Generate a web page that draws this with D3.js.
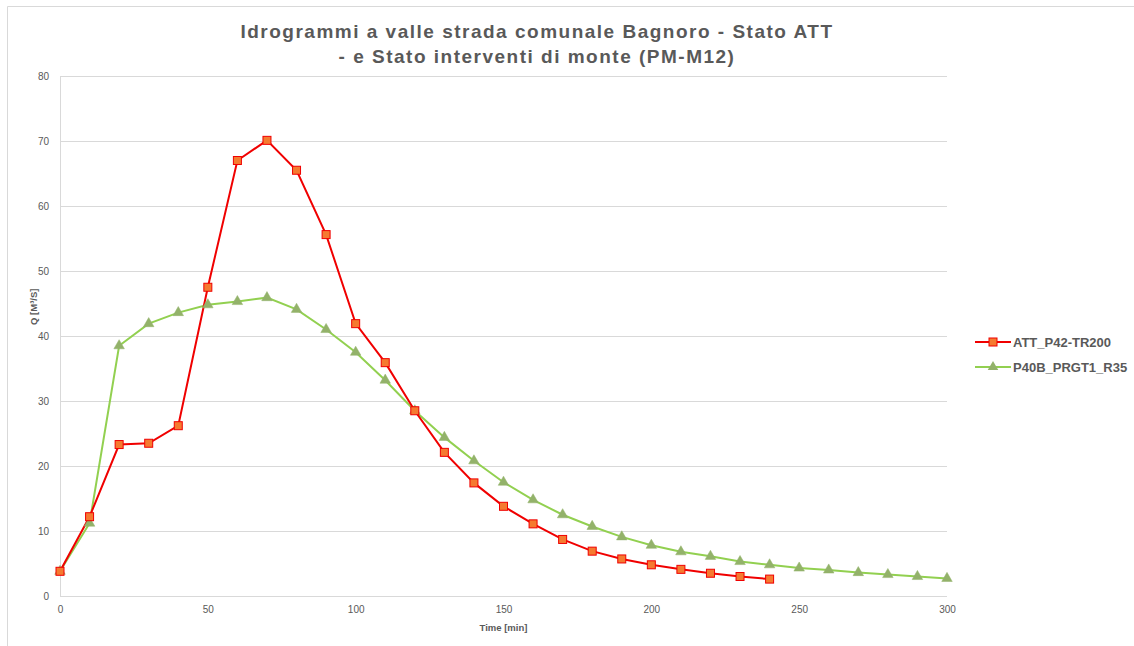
<!DOCTYPE html>
<html>
<head>
<meta charset="utf-8">
<script src="https://cdn.jsdelivr.net/npm/d3@7"></script>
<style>
  body { margin: 0; background: #fff; }
  text { font-family: "Liberation Sans", Arial, sans-serif; }
</style>
</head>
<body>
<svg id="chart"></svg>
<script>
const size = {w: 1134, h: 646};
const margin = {t: 76, r: 187, b: 50, l: 60};

// data
const time = d3.range(0, 301, 10);
const attValues = [3.8, 12.2, 23.3, 23.5, 26.2, 47.5, 67.0, 70.1, 65.5, 55.6, 41.9, 35.9, 28.5,
    22.1, 17.4, 13.8, 11.1, 8.7, 6.9, 5.7, 4.8, 4.1, 3.5, 3.0, 2.6];
const prgValues = [3.8, 11.2, 38.5, 41.9, 43.6, 44.8, 45.3, 45.9, 44.1, 41.0, 37.5, 33.2, 28.5,
    24.4, 20.8, 17.5, 14.8, 12.5, 10.7, 9.1, 7.8, 6.8, 6.1, 5.3, 4.8, 4.3, 4.0, 3.6, 3.3, 3.0, 2.7];
const seriesNames = ['ATT_P42-TR200', 'P40B_PRGT1_R35'];
const xTicks = [0, 50, 100, 150, 200, 250, 300];
const yTicks = [0, 10, 20, 30, 40, 50, 60, 70, 80];
const titleLines = ['Idrogrammi a valle strada comunale Bagnoro - Stato ATT',
    '- e Stato interventi di monte (PM-M12)'];

const svg = d3.select('svg#chart')
    .attr('width', size.w)
    .attr('height', size.h);

// frame (only top and left edges visible in the crop)
svg.append('line').attr('x1', 7.5).attr('x2', size.w).attr('y1', 6.5).attr('y2', 6.5)
    .attr('stroke', '#d9d9d9');
svg.append('line').attr('x1', 7.5).attr('x2', 7.5).attr('y1', 6.5).attr('y2', size.h)
    .attr('stroke', '#d9d9d9');

const w = size.w - margin.l - margin.r;
const h = size.h - margin.t - margin.b;

const x = d3.scaleLinear().domain([0, 300]).range([0, w]);
const y = d3.scaleLinear().domain([0, 80]).range([h, 0]);

const g = svg.append('g')
    .attr('transform', `translate(${margin.l}, ${margin.t})`);

// gridlines
g.append('g')
    .selectAll('line')
    .data(yTicks)
    .join('line')
    .attr('x1', 0)
    .attr('x2', w)
    .attr('y1', d => Math.round(y(d)) + 0.5)
    .attr('y2', d => Math.round(y(d)) + 0.5)
    .attr('stroke', '#d9d9d9');

g.append('line')
    .attr('x1', 0.5).attr('x2', 0.5)
    .attr('y1', 0).attr('y2', h)
    .attr('stroke', '#d9d9d9');

// axes
const yAxis = g.append('g')
    .call(d3.axisLeft(y).tickValues(yTicks).tickSize(0).tickPadding(11));
yAxis.select('.domain').remove();
yAxis.selectAll('text')
    .attr('fill', '#595959')
    .style('font-family', '"Liberation Sans Narrow", "Liberation Sans", sans-serif')
    .style('font-size', '10px');

const xAxis = g.append('g')
    .attr('transform', `translate(0, ${h})`)
    .call(d3.axisBottom(x).tickValues(xTicks).tickSize(0).tickPadding(10));
xAxis.select('.domain').remove();
xAxis.selectAll('text')
    .attr('fill', '#595959')
    .style('font-family', '"Liberation Sans Narrow", "Liberation Sans", sans-serif')
    .style('font-size', '10px');

// axis titles
g.append('text')
    .attr('x', x(150))
    .attr('y', h + 35)
    .attr('text-anchor', 'middle')
    .attr('fill', '#595959')
    .style('font-family', '"Liberation Sans Narrow", "Liberation Sans", sans-serif')
    .style('font-size', '9.5px')
    .style('font-weight', 'bold')
    .text('Time [min]');

g.append('text')
    .attr('transform', `translate(-23, ${y(44.5)}) rotate(-90)`)
    .attr('text-anchor', 'middle')
    .attr('fill', '#595959')
    .style('font-family', '"Liberation Sans Narrow", "Liberation Sans", sans-serif')
    .style('font-size', '9.5px')
    .style('font-weight', 'bold')
    .text('Q [M³/S]');

// title
svg.append('g')
    .selectAll('text')
    .data(titleLines)
    .join('text')
    .attr('x', 537)
    .attr('y', (d, i) => 38 + i * 25)
    .attr('text-anchor', 'middle')
    .attr('fill', '#595959')
    .style('font-size', '19px')
    .style('font-weight', 'bold')
    .style('letter-spacing', '1.5px')
    .text(d => d);

// lines
const line = d3.line()
    .x(d => x(d[0]))
    .y(d => y(d[1]));

const attData = attValues.map((v, i) => [time[i], v]);
const prgData = prgValues.map((v, i) => [time[i], v]);

const green = '#92d050';
const greenMark = '#93b26a';
const red = '#f00000';
const orange = '#f57a30';

g.append('path')
    .datum(prgData)
    .attr('d', line)
    .attr('fill', 'none')
    .attr('stroke', green)
    .attr('stroke-width', 2);

g.append('path')
    .datum(attData)
    .attr('d', line)
    .attr('fill', 'none')
    .attr('stroke', red)
    .attr('stroke-width', 2);

const tri = d3.symbol().type(d3.symbolTriangle).size(48);

g.append('g')
    .selectAll('path')
    .data(prgData)
    .join('path')
    .attr('d', tri)
    .attr('transform', d => `translate(${x(d[0])}, ${y(d[1])})`)
    .attr('fill', greenMark)
    .attr('stroke', greenMark)
    .attr('stroke-width', 0.5);

g.append('g')
    .selectAll('rect')
    .data(attData)
    .join('rect')
    .attr('x', d => x(d[0]) - 4)
    .attr('y', d => y(d[1]) - 4)
    .attr('width', 8)
    .attr('height', 8)
    .attr('fill', orange)
    .attr('stroke', red)
    .attr('stroke-width', 1);

// legend
const legend = svg.append('g')
    .attr('transform', 'translate(975, 342)');

const items = legend.selectAll('g')
    .data(seriesNames)
    .join('g')
    .attr('transform', (d, i) => `translate(0, ${i * 25})`);

items.append('line')
    .attr('x1', 0).attr('x2', 36)
    .attr('y1', 0).attr('y2', 0)
    .attr('stroke', (d, i) => i === 0 ? red : green)
    .attr('stroke-width', 2);

items.filter((d, i) => i === 0).append('rect')
    .attr('x', 14).attr('y', -4)
    .attr('width', 8).attr('height', 8)
    .attr('fill', orange)
    .attr('stroke', red);

items.filter((d, i) => i === 1).append('path')
    .attr('d', tri)
    .attr('transform', 'translate(18, 0)')
    .attr('fill', greenMark);

items.append('text')
    .attr('x', 38)
    .attr('y', 5)
    .attr('fill', '#595959')
    .style('font-size', '13px')
    .style('font-weight', 'bold')
    .text(d => d);
</script>
</body>
</html>
